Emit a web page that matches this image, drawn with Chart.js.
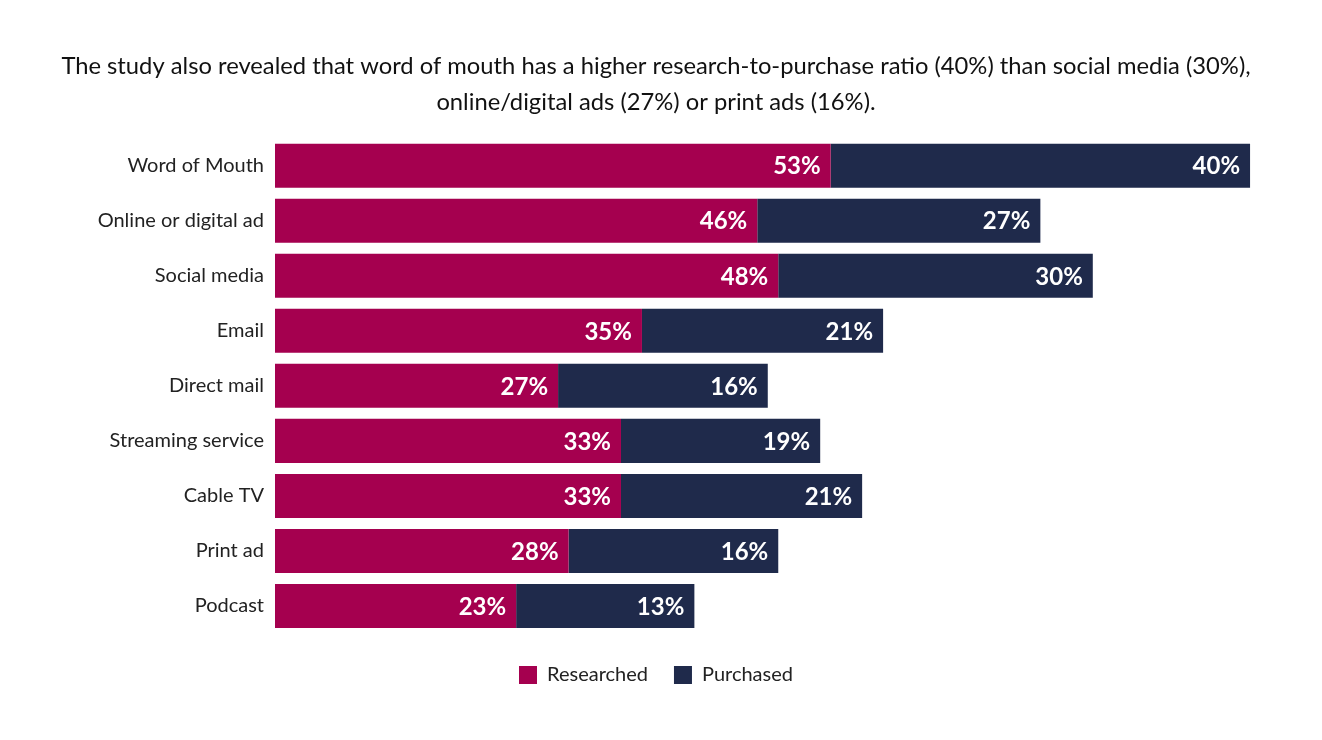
<!DOCTYPE html>
<html>
<head>
<meta charset="utf-8">
<script src="https://cdn.jsdelivr.net/npm/chart.js@4"></script>
<style>
  html, body { margin: 0; padding: 0; background: #fff; }
  #wrap { width: 1322px; height: 740px; }
</style>
</head>
<body>
<div id="wrap"><canvas id="graph1" width="1322" height="740"></canvas></div>
<script>
const categories = ['Word of Mouth', 'Online or digital ad', 'Social media', 'Email', 'Direct mail',
    'Streaming service', 'Cable TV', 'Print ad', 'Podcast'];
const researched = [53, 46, 48, 35, 27, 33, 33, 28, 23];
// the purchased segments in the picture are drawn longer than their printed values on some rows
const purchasedBars = [40, 27, 30, 23, 20, 19, 23, 20, 17];
const purchasedLabels = [40, 27, 30, 21, 16, 19, 21, 16, 13];
const titleLines = [
    'The study also revealed that word of mouth has a higher research-to-purchase ratio (40%) than social media (30%),',
    'online/digital ads (27%) or print ads (16%).'
];

// white % labels at the end of each segment
const barLabels = {
    id: 'barLabels',
    afterDatasetsDraw(chart) {
        const ctx = chart.ctx;
        const texts = [researched, purchasedLabels];
        ctx.save();
        ctx.font = 'bold 24px Lato';
        ctx.fillStyle = '#fff';
        ctx.textAlign = 'right';
        ctx.textBaseline = 'middle';
        texts.forEach((vals, i) => {
            chart.getDatasetMeta(i).data.forEach((bar, j) => {
                ctx.fillText(vals[j] + '%', bar.x - 10, bar.y + 1);
            });
        });
        ctx.restore();
    }
};

new Chart(document.getElementById('graph1'), {
    type: 'bar',
    data: {
        labels: categories,
        datasets: [
            { label: 'Researched', data: researched, backgroundColor: '#a5004f' },
            { label: 'Purchased', data: purchasedBars, backgroundColor: '#1f2a4b' }
        ]
    },
    options: {
        indexAxis: 'y',
        responsive: false,
        animation: false,
        datasets: { bar: { barPercentage: 0.8, categoryPercentage: 1 } },
        layout: { padding: { left: 20, right: 30, top: 1, bottom: 45 } },
        plugins: {
            title: {
                display: true,
                text: titleLines,
                color: '#111',
                font: { family: 'Lato', size: 23.75, weight: 'normal', lineHeight: 1.52 },
                padding: { top: 47, bottom: 18 }
            },
            legend: {
                position: 'bottom',
                labels: {
                    color: '#222',
                    font: { family: 'Lato', size: 20 },
                    boxWidth: 18, boxHeight: 18,
                    padding: 26
                }
            },
            tooltip: { enabled: false }
        },
        scales: {
            x: {
                stacked: true, min: 0, max: 97,
                grid: { display: false, drawTicks: false },
                border: { display: false },
                ticks: { display: false },
                afterFit(scale) { scale.height = 5.5; }
            },
            y: {
                stacked: true,
                grid: { display: false, drawTicks: false },
                border: { display: false },
                afterFit(scale) { scale.width = 255; },
                ticks: { color: '#222', font: { family: 'Lato', size: 20 }, padding: 11 }
            }
        }
    },
    plugins: [barLabels]
});
</script>
</body>
</html>
